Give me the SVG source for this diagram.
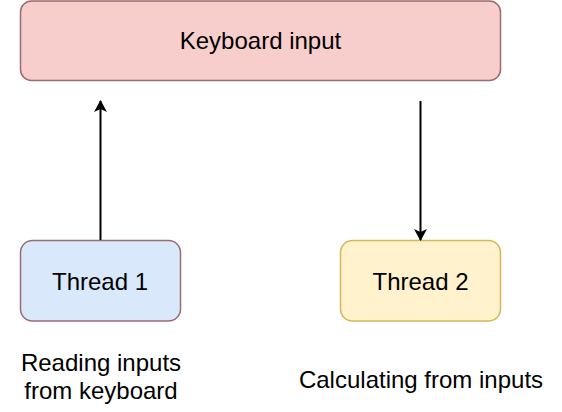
<svg xmlns="http://www.w3.org/2000/svg" width="562" height="412" viewBox="0 0 562 412">
<style>
text{font-family:"Liberation Sans",Arial,sans-serif;font-size:24px;fill:#000;text-anchor:middle}
.box{stroke-width:1.5}
.edge{stroke:#000;stroke-width:2;fill:none}
</style>
<defs>
<marker id="ah" viewBox="0 0 12 14" refX="11" refY="7" markerWidth="13" markerHeight="14" markerUnits="userSpaceOnUse" orient="auto">
<path d="M0,0.5 L12,7 L0,13.5 L3,7 Z" fill="#000"/>
</marker>
</defs>
<rect width="562" height="412" fill="#fff"/>
<g id="keyboard">
<rect class="box" x="20.5" y="1" width="480" height="79.5" rx="11" fill="#f8cecc" stroke="#9a6b70"/>
<text x="260.5" y="48.5">Keyboard input</text>
</g>
<g id="thread1">
<rect class="box" x="20.5" y="240.5" width="160" height="80.5" rx="12" fill="#dae8fc" stroke="#9a6b70"/>
<text x="100" y="289.5">Thread 1</text>
</g>
<g id="thread2">
<rect class="box" x="340.5" y="240.5" width="160" height="80.5" rx="12" fill="#fff2cc" stroke="#d6b656"/>
<text x="420.5" y="289.5">Thread 2</text>
</g>
<g id="label1">
<text x="101" y="371">Reading inputs</text>
<text x="101" y="398.5">from keyboard</text>
</g>
<g id="label2">
<text x="421" y="388">Calculating from inputs</text>
</g>
<g id="connectors">
<path class="edge" d="M100.5,240 L100.5,101" marker-end="url(#ah)"/>
<path class="edge" d="M420.5,101 L420.5,240" marker-end="url(#ah)"/>
</g>
</svg>
